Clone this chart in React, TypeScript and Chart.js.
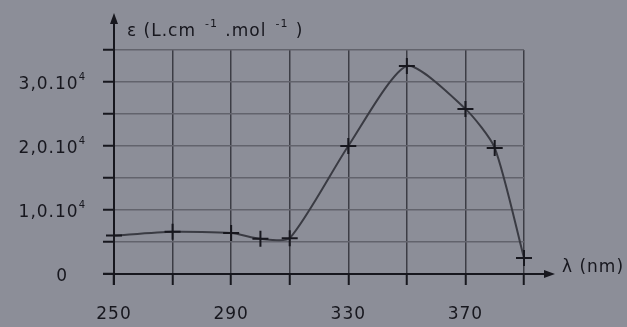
import React, { useEffect, useRef } from "react";
import { Chart, registerables } from "chart.js";

Chart.register(...registerables);

const wavelengths = [250, 270, 290, 300, 310, 330, 350, 370, 380, 390];
const epsilon = [6000, 6600, 6400, 5500, 5600, 20000, 32500, 25800, 19700, 2500];
const xTickValues = [250, 270, 290, 310, 330, 350, 370, 390];
const xLabelValues = [250, 290, 330, 370];
const yLabelValues = [0, 10000, 20000, 30000];
const yLabelMantissa = ["0", "1,0.10", "2,0.10", "3,0.10"];
const yLabelExponent = ["", "4", "4", "4"];

const BG = "#8c8e98";
const INK = "#17171e";
const FONT = "'DejaVu Sans'";

const decorPlugin = {
  id: "decor",
  beforeDraw(chart: any) {
    const { ctx, width, height } = chart;
    ctx.save();
    ctx.fillStyle = BG;
    ctx.fillRect(0, 0, width, height);
    ctx.restore();
  },
  afterDraw(chart: any) {
    const { ctx } = chart;
    const xs = chart.scales.x;
    const ys = chart.scales.y;
    const x0 = xs.getPixelForValue(250);
    const y0 = ys.getPixelForValue(0);
    ctx.save();
    ctx.strokeStyle = INK;
    ctx.fillStyle = INK;
    ctx.lineWidth = 2;
    // y axis
    ctx.beginPath();
    ctx.moveTo(x0, y0 + 11);
    ctx.lineTo(x0, 20);
    ctx.stroke();
    ctx.beginPath();
    ctx.moveTo(x0, 13);
    ctx.lineTo(x0 - 4, 24);
    ctx.lineTo(x0 + 4, 24);
    ctx.closePath();
    ctx.fill();
    // x axis
    ctx.beginPath();
    ctx.moveTo(x0 - 11, y0);
    ctx.lineTo(548, y0);
    ctx.stroke();
    ctx.beginPath();
    ctx.moveTo(555, y0);
    ctx.lineTo(544, y0 - 4);
    ctx.lineTo(544, y0 + 4);
    ctx.closePath();
    ctx.fill();

    (ctx as any).letterSpacing = "1px";
    ctx.textBaseline = "alphabetic";
    // y tick labels
    yLabelValues.forEach((v, i) => {
      const py = ys.getPixelForValue(v);
      const m = yLabelMantissa[i];
      const e = yLabelExponent[i];
      ctx.font = `17px ${FONT}`;
      const mw = ctx.measureText(m).width;
      ctx.font = `10px ${FONT}`;
      const ew = e ? ctx.measureText(e).width : 0;
      const right = i === 0 ? 68 : 86;
      const start = right - mw - ew;
      ctx.font = `17px ${FONT}`;
      ctx.textAlign = "left";
      ctx.fillText(m, start, py + 7);
      if (e) {
        ctx.font = `10px ${FONT}`;
        ctx.fillText(e, start + mw, py - 2);
      }
    });
    // x tick labels
    ctx.font = `17px ${FONT}`;
    ctx.textAlign = "center";
    xLabelValues.forEach((v) => {
      ctx.fillText(String(v), xs.getPixelForValue(v), 319);
    });
    // y title
    ctx.textAlign = "left";
    let x = 127;
    const base = 36;
    const big = `17px ${FONT}`;
    const small = `11px ${FONT}`;
    const parts: [string, boolean][] = [
      ["ε (L.cm", false],
      ["  -1", true],
      [" .mol", false],
      ["  -1", true],
      [" )", false],
    ];
    for (const [t, sup] of parts) {
      ctx.font = sup ? small : big;
      ctx.fillText(t, x, sup ? base - 9 : base);
      x += ctx.measureText(t).width + (sup ? 1 : 0);
    }
    // x title
    ctx.font = big;
    ctx.fillText("λ (nm)", 562, 272);
    ctx.restore();
  },
};

export default function App() {
  const ref = useRef<HTMLCanvasElement>(null);
  useEffect(() => {
    document.body.style.margin = "0";
    const chart = new Chart(ref.current!, {
      type: "line",
      data: {
        datasets: [
          {
            data: wavelengths.map((w, i) => ({ x: w, y: epsilon[i] })),
            borderColor: "#3a3b43",
            borderWidth: 2,
            tension: 0.22,
            pointStyle: "cross",
            pointRadius: 8,
            pointBorderWidth: 2,
            pointBorderColor: INK,
            fill: false,
            clip: false,
          } as any,
        ],
      },
      plugins: [decorPlugin],
      options: {
        animation: false,
        responsive: false,
        maintainAspectRatio: false,
        events: [],
        layout: { padding: { left: 0, top: 50, right: 103, bottom: 0 } },
        plugins: { legend: { display: false }, tooltip: { enabled: false } },
        scales: {
          x: {
            type: "linear",
            min: 250,
            max: 390,
            afterFit: (s: any) => {
              s.height = 53;
            },
            afterBuildTicks: (s: any) => {
              s.ticks = xTickValues.map((v) => ({ value: v }));
            },
            border: { display: false },
            grid: { color: "#3c3d45", lineWidth: 1.5, tickLength: 11, drawTicks: true, tickColor: INK, tickWidth: 2 },
            ticks: { autoSkip: false, maxRotation: 0, callback: () => "" },
          },
          y: {
            type: "linear",
            min: 0,
            max: 35000,
            afterFit: (s: any) => {
              s.width = 114;
            },
            border: { display: false },
            grid: { color: "#62636c", lineWidth: 1.5, tickLength: 11, drawTicks: true, tickColor: INK, tickWidth: 2 },
            ticks: { stepSize: 5000, autoSkip: false, callback: () => "" },
          },
        },
      },
    });
    return () => chart.destroy();
  }, []);
  return (
    <div style={{ position: "fixed", left: 0, top: 0, width: 627, height: 327, background: BG }}>
      <canvas ref={ref} width={627} height={327} />
    </div>
  );
}
